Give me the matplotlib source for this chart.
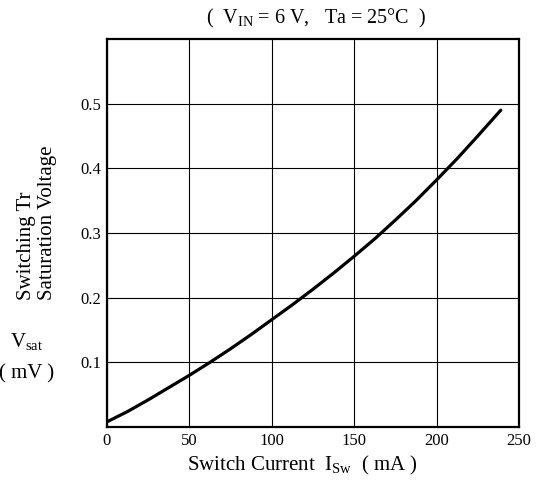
import matplotlib
matplotlib.use('Agg')
import matplotlib.pyplot as plt

# values
switch_current = [0, 12.5, 25, 37.5, 50, 62.5, 75, 87.5, 100, 112.5, 125, 137.5,
                  150, 162.5, 175, 187.5, 200, 212.5, 225, 239]
sat_voltage = [0.008, 0.024, 0.042, 0.061, 0.080, 0.100, 0.121, 0.143, 0.166, 0.189,
               0.213, 0.238, 0.264, 0.291, 0.320, 0.350, 0.382, 0.415, 0.450, 0.490]

x_ticks = [0, 50, 100, 150, 200, 250]
y_ticks = [0.1, 0.2, 0.3, 0.4, 0.5]
y_tick_labels = ['0.1', '0.2', '0.3', '0.4', '0.5']

plt.rcParams['font.family'] = ['Liberation Serif', 'DejaVu Serif']
plt.rcParams['mathtext.fontset'] = 'custom'
plt.rcParams['mathtext.rm'] = 'Liberation Serif'


def main():
    fig = plt.figure(figsize=(5.36, 4.91), dpi=100)
    ax = fig.add_axes([0.1996, 0.1303, 0.7686, 0.7903])

    ax.plot(switch_current, sat_voltage, color='black', linewidth=2.3,
            solid_capstyle='round', solid_joinstyle='round')

    ax.set_xlim(0, 250)
    ax.set_ylim(0, 0.6)
    ax.set_xticks(x_ticks)
    ax.set_yticks(y_ticks)
    ax.set_yticklabels(y_tick_labels)
    ax.grid(True, color='black', linewidth=0.8)
    ax.tick_params(axis='both', length=0, labelsize=12, pad=4)
    for spine in ax.spines.values():
        spine.set_linewidth(1.6)

    # subtitle (main title is cropped off in the source)
    fig.text(0.59, 0.963, r'(  $\mathrm{V_{IN}}$ = 6 V,   Ta = 25°C  )',
             ha='center', va='center', fontsize=14.5)

    # y axis label in two rotated columns plus symbol / unit
    fig.text(0.050, 0.39, 'Switching Tr', rotation=90, ha='center', va='bottom', fontsize=15)
    fig.text(0.088, 0.39, 'Saturation Voltage', rotation=90, ha='center', va='bottom', fontsize=15)
    fig.text(0.05, 0.305, r'$\mathrm{V_{sat}}$', ha='center', va='center', fontsize=15)
    fig.text(0.05, 0.238, '( mV )', ha='center', va='center', fontsize=15)

    fig.text(0.565, 0.051, r'Switch Current  $\mathrm{I_{Sw}}$  ( mA )',
             ha='center', va='center', fontsize=15)

    plt.savefig('out.png', dpi=100)


if __name__ == "__main__":
    main()
